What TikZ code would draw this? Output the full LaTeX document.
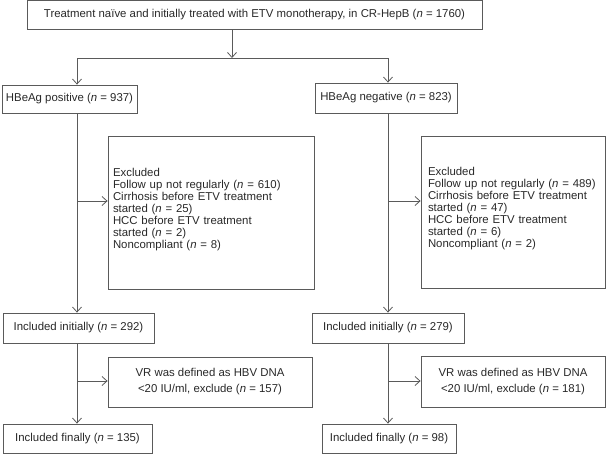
\documentclass[tikz,border=0pt]{standalone}
\usepackage{fontspec}
\setmainfont{Liberation Sans}
\usepackage{tikz}
\usetikzlibrary{arrows.meta}
\definecolor{linegray}{RGB}{90,90,90}
\definecolor{textgray}{RGB}{40,40,40}

\begin{document}
\begin{tikzpicture}[x = 1pt, y = -1pt,
        box/.style = {draw = linegray, line width = 0.8pt, text = textgray, font = {\fontsize{11.4}{12}\selectfont}, inner sep = 0pt, minimum height = 29pt},
        link/.style = {draw = linegray, line width = 0.8pt},
        arr/.style = {link, -{Straight Barb[length = 5pt, width = 9pt]}}]
        \useasboundingbox (0, 0) rectangle (606, 456);

        \node[box, minimum width = 455pt, minimum height = 28.5pt] (total) at (254.5, 14.75) {Treatment naïve and initially treated with ETV monotherapy, in CR-HepB (\textit{n} = 1760)};


        \node[box, minimum width = 135pt, minimum height = 28pt] (pos) at (69.5, 99) {HBeAg positive (\textit{n} = 937)};

        \node[box, minimum width = 142pt, minimum height = 30pt] (neg) at (386, 98) {HBeAg negative (\textit{n} = 823)};


        \node[box, minimum width = 206pt, minimum height = 153pt, text width = 196pt, align = left, text depth = 81pt] (exclPos) at (211, 212.5) {Excluded\\Follow up not regularly (\textit{n} = 610)\\Cirrhosis before ETV treatment\\started (\textit{n} = 25)\\HCC before ETV treatment\\started (\textit{n} = 2)\\Noncompliant (\textit{n} = 8)};

        \node[box, minimum width = 184pt, minimum height = 152pt, text width = 170pt, align = left, text depth = 81pt] (exclNeg) at (513, 212) {Excluded\\\mbox{Follow up not regularly (\textit{n} = 489)}\\Cirrhosis before ETV treatment\\started (\textit{n} = 47)\\HCC before ETV treatment\\started (\textit{n} = 6)\\Noncompliant (\textit{n} = 2)};


        \node[box, minimum width = 151pt, minimum height = 30pt] (initPos) at (78.5, 328) {Included initially (\textit{n} = 292)};

        \node[box, minimum width = 152pt, minimum height = 30pt] (initNeg) at (388, 328) {Included initially (\textit{n} = 279)};


        \node[box, minimum width = 204pt, minimum height = 50pt, align = center, font = {\fontsize{11.4}{16}\selectfont}] (vrPos) at (210, 382) {VR was defined as HBV DNA\\<20 IU/ml, exclude (\textit{n} = 157)};

        \node[box, minimum width = 184pt, minimum height = 51pt, align = center, font = {\fontsize{11.4}{16}\selectfont}] (vrNeg) at (513, 381.5) {VR was defined as HBV DNA\\<20 IU/ml, exclude (\textit{n} = 181)};


        \node[box, minimum width = 149pt] (finPos) at (77.5, 438.5) {Included finally (\textit{n} = 135)};

        \node[box, minimum width = 134pt] (finNeg) at (389, 438.5) {Included finally (\textit{n} = 98)};


        \coordinate (splitTop) at (232, 58);
        \coordinate (splitPos) at (77, 58);
        \coordinate (splitNeg) at (388, 58);
        \coordinate (forkExclPos) at (77, 201);
        \coordinate (forkExclNeg) at (388, 201);
        \coordinate (forkVrPos) at (77, 381);
        \coordinate (forkVrNeg) at (388, 381);

        \draw[arr] (splitTop |- total.south) -- (splitTop);
        \draw[link] (splitPos) -- (splitNeg);
        \draw[arr] (splitPos) -- (splitPos |- pos.north);
        \draw[arr] (splitNeg) -- (splitNeg |- neg.north);

        \draw[arr] (splitPos |- pos.south) -- (splitPos |- initPos.north);
        \draw[arr] (forkExclPos) -- (forkExclPos -| exclPos.west);
        \draw[arr] (splitPos |- initPos.south) -- (splitPos |- finPos.north);
        \draw[arr] (forkVrPos) -- (forkVrPos -| vrPos.west);

        \draw[arr] (splitNeg |- neg.south) -- (splitNeg |- initNeg.north);
        \draw[arr] (forkExclNeg) -- (forkExclNeg -| exclNeg.west);
        \draw[arr] (splitNeg |- initNeg.south) -- (splitNeg |- finNeg.north);
        \draw[arr] (forkVrNeg) -- (forkVrNeg -| vrNeg.west);
    \end{tikzpicture}
\end{document}
